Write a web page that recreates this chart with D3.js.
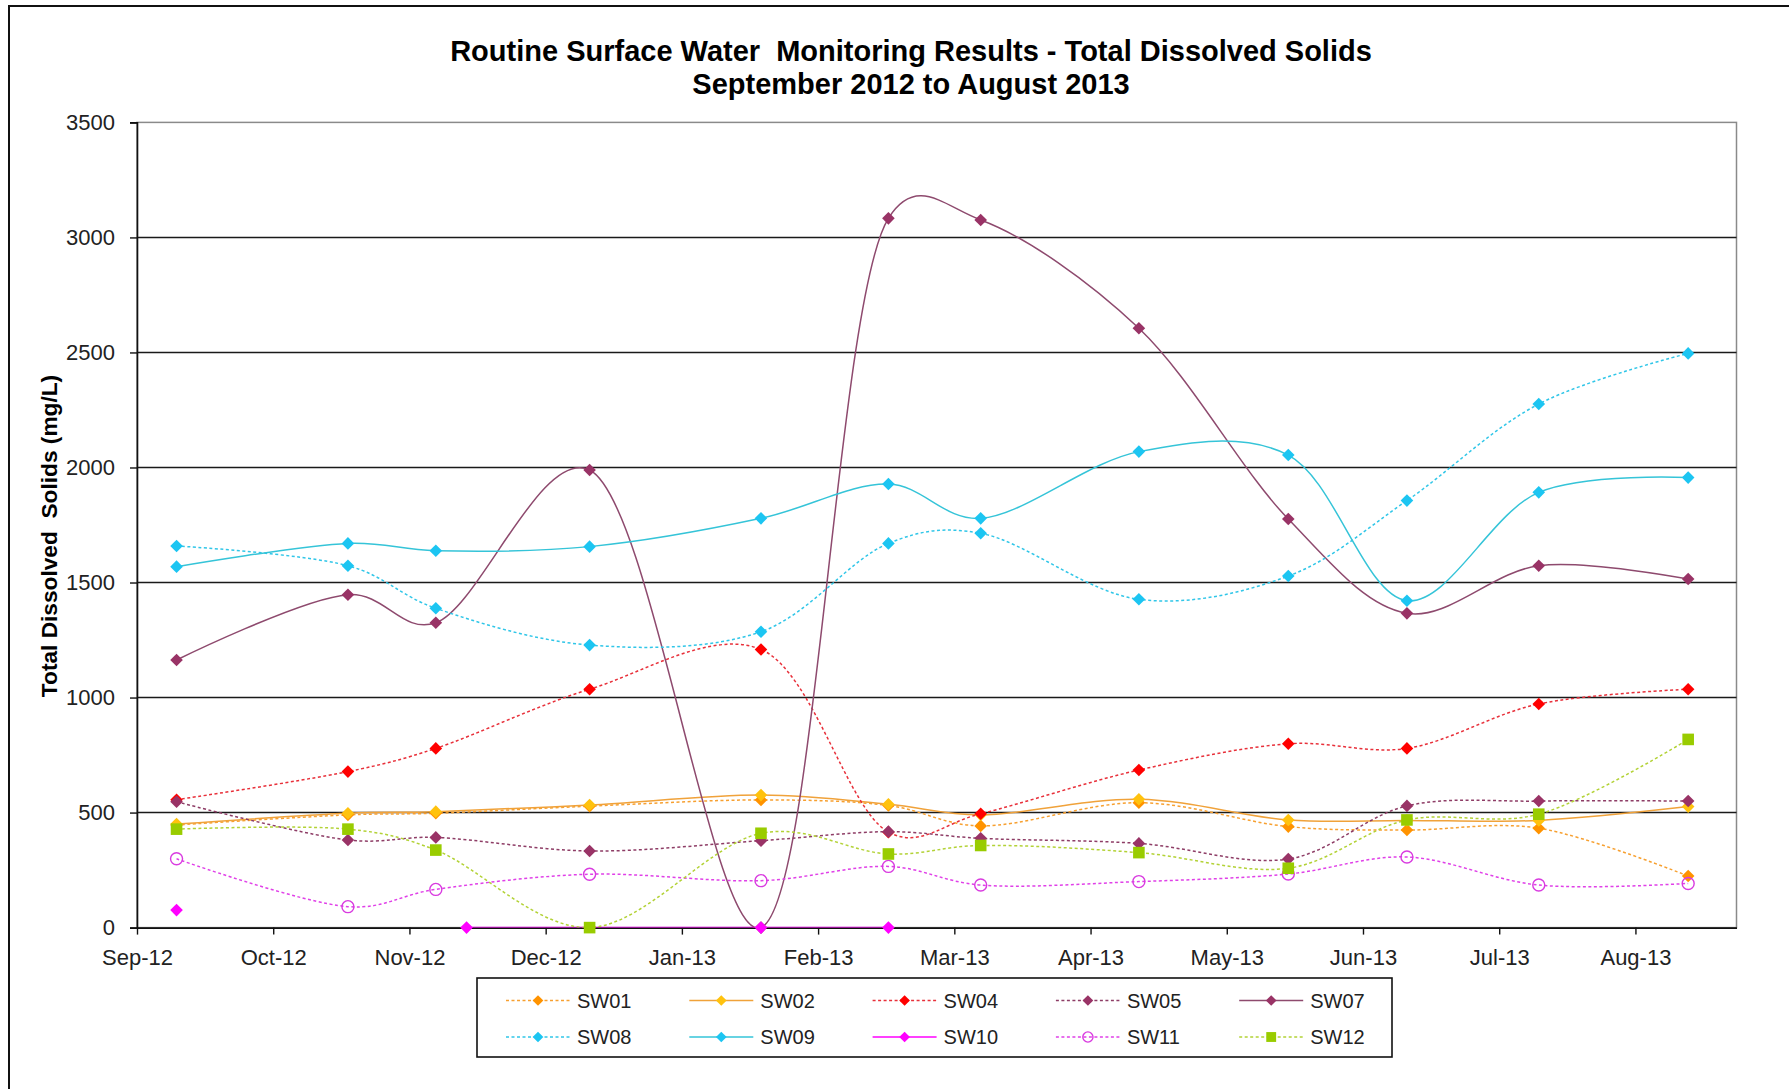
<!DOCTYPE html>
<html>
<head>
<meta charset="utf-8">
<script src="https://cdn.jsdelivr.net/npm/d3@7"></script>
<style>
  html, body { margin: 0; padding: 0; background: #fff; }
  svg { display: block; }
  text { font-family: "Liberation Sans", Arial, sans-serif; }
</style>
</head>
<body>
<script>
// ---------------- DATA ----------------
const titleLines = ["Routine Surface Water  Monitoring Results - Total Dissolved Solids", "September 2012 to August 2013"];
const yAxisTitle = "Total Dissolved  Solids (mg/L)";
const tickLabels = ["Sep-12","Oct-12","Nov-12","Dec-12","Jan-13","Feb-13","Mar-13","Apr-13","May-13","Jun-13","Jul-13","Aug-13"];
const yTicks = [0, 500, 1000, 1500, 2000, 2500, 3000, 3500];

const sampleDates = ["2012-09-10","2012-10-19","2012-11-08","2012-12-13","2013-01-21","2013-02-19",
                     "2013-03-12","2013-04-17","2013-05-21","2013-06-17","2013-07-17","2013-08-20"];
const sw10Dates = ["2012-09-10","2012-10-19","2012-11-15","2013-01-21","2013-02-19"];

const sw01 = [446, 490, 497, 528, 555, 531, 442, 543, 439, 424, 432, 224];
const sw02 = [450, 497, 504, 533, 576, 536, 490, 558, 468, 466, 466, 526];
const sw04 = [556, 678, 779, 1036, 1209, 415, 495, 685, 799, 779, 972, 1036];
const sw05 = [547, 381, 392, 333, 378, 417, 388, 366, 298, 529, 550, 550];
const sw07 = [1163, 1447, 1325, 1989, 0, 3083, 3076, 2605, 1776, 1366, 1573, 1515];
const sw08 = [1659, 1573, 1388, 1228, 1286, 1670, 1714, 1427, 1528, 1856, 2276, 2496];
const sw09 = [1569, 1670, 1638, 1656, 1779, 1928, 1779, 2069, 2054, 1421, 1892, 1956];
const sw10 = [76, null, 0, 0, 0];
const sw11 = [299, 91, 166, 232, 204, 266, 185, 200, 233, 307, 185, 192];
const sw12 = [428, 428, 337, 0, 410, 320, 357, 326, 258, 468, 493, 818];

const seriesNames = ["SW01","SW02","SW04","SW05","SW07","SW08","SW09","SW10","SW11","SW12"];
const seriesValues = [sw01, sw02, sw04, sw05, sw07, sw08, sw09, sw10, sw11, sw12];
const seriesDates = [sampleDates, sampleDates, sampleDates, sampleDates, sampleDates, sampleDates, sampleDates, sw10Dates, sampleDates, sampleDates];

// ---------------- STYLE ----------------
const styles = {
  SW01: {line: "#F7A030", marker: "#FF9300", dash: "3,2.5", shape: "diamond"},
  SW02: {line: "#F0A23A", marker: "#FFC20E", dash: null,    shape: "diamond"},
  SW04: {line: "#E8303A", marker: "#FF0000", dash: "3,2.5", shape: "diamond"},
  SW05: {line: "#8E3D66", marker: "#993366", dash: "3,2.5", shape: "diamond"},
  SW07: {line: "#8E4A6E", marker: "#993366", dash: null,    shape: "diamond"},
  SW08: {line: "#30C6E8", marker: "#1CC5F2", dash: "3,2.5", shape: "diamond"},
  SW09: {line: "#35C4D8", marker: "#1CC5F2", dash: null,    shape: "diamond"},
  SW10: {line: "#FF00FF", marker: "#FF00FF", dash: null,    shape: "diamond"},
  SW11: {line: "#E040E8", marker: "#D93BE0", dash: "3,2.5", shape: "circle"},
  SW12: {line: "#B3D236", marker: "#99CC00", dash: "3,2.5", shape: "square"}
};

const W = 1789, H = 1089;
const plot = {left: 137, right: 1736.5, top: 122.4, bottom: 927.6};
const parse = d3.utcParse("%Y-%m-%d");
const startDate = parse("2012-09-01"), endDate = parse("2013-08-31");

const svg = d3.select("body").append("svg").attr("width", W).attr("height", H);
svg.append("rect").attr("width", W).attr("height", H).attr("fill", "#fff");

// outer chart border
svg.append("rect").attr("x", 9).attr("y", 6).attr("width", 1900).attr("height", 1300)
  .attr("fill", "none").attr("stroke", "#111").attr("stroke-width", 2);

const x = d3.scaleUtc().domain([startDate, endDate]).range([plot.left, plot.right]);
const y = d3.scaleLinear().domain([0, 3500]).range([plot.bottom, plot.top]);

// title
svg.append("g").selectAll("text").data(titleLines).join("text")
  .attr("x", 911).attr("y", (d, i) => 61 + i * 33)
  .attr("text-anchor", "middle").attr("font-size", 29).attr("font-weight", "bold")
  .style("white-space", "pre").attr("fill", "#000").text(d => d);

// plot area border (right, top gray)
svg.append("rect").attr("x", plot.left).attr("y", plot.top)
  .attr("width", plot.right - plot.left).attr("height", plot.bottom - plot.top)
  .attr("fill", "#fff").attr("stroke", "#8a8a8a").attr("stroke-width", 1.5);

// gridlines
svg.append("g").selectAll("line").data(yTicks.filter(v => v > 0 && v < 3500)).join("line")
  .attr("x1", plot.left).attr("x2", plot.right)
  .attr("y1", d => y(d)).attr("y2", d => y(d))
  .attr("stroke", "#1a1a1a").attr("stroke-width", 1.6);

// y axis
const yAxis = svg.append("g").attr("transform", `translate(${plot.left},0)`)
  .call(d3.axisLeft(y).tickValues(yTicks).tickSize(7).tickPadding(15).tickFormat(d3.format("d")));
yAxis.select(".domain").attr("stroke", "#111").attr("stroke-width", 1.6);
yAxis.selectAll(".tick line").attr("stroke", "#111").attr("stroke-width", 1.4);
yAxis.selectAll("text").attr("font-size", 22).attr("fill", "#222")
  .attr("font-family", "Liberation Sans, Arial, sans-serif");

// x axis
const tickDates = tickLabels.map((_, i) => d3.utcDay.offset(startDate, 31 * i));
const xAxis = svg.append("g").attr("transform", `translate(0,${plot.bottom})`)
  .call(d3.axisBottom(x).tickValues(tickDates).tickSize(7).tickSizeOuter(0)
        .tickFormat((d, i) => tickLabels[i]));
xAxis.select(".domain").attr("stroke", "#111").attr("stroke-width", 1.6);
xAxis.selectAll(".tick line").attr("stroke", "#111").attr("stroke-width", 1.4);
xAxis.selectAll("text").attr("font-size", 22).attr("fill", "#222").attr("dy", 0).attr("y", 37.5)
  .attr("font-family", "Liberation Sans, Arial, sans-serif");

// y axis title
svg.append("text").attr("transform", "translate(57,536) rotate(-90)")
  .attr("text-anchor", "middle").attr("font-size", 22.7).attr("font-weight", "bold")
  .style("white-space", "pre").text(yAxisTitle);

// clip
svg.append("clipPath").attr("id", "clip").append("rect")
  .attr("x", plot.left).attr("y", plot.top - 10)
  .attr("width", plot.right - plot.left).attr("height", plot.bottom - plot.top + 10);

function drawMarker(g, shape, cx, cy, st, scale) {
  const s = scale || 1;
  if (shape === "diamond") {
    const r = 6.3 * s;
    g.append("path").attr("d", `M${cx},${cy - r}L${cx + r},${cy}L${cx},${cy + r}L${cx - r},${cy}Z`)
      .attr("fill", st.marker);
  } else if (shape === "square") {
    const r = 5.8 * s;
    g.append("rect").attr("x", cx - r).attr("y", cy - r).attr("width", 2 * r).attr("height", 2 * r)
      .attr("fill", st.marker);
  } else {
    g.append("circle").attr("cx", cx).attr("cy", cy).attr("r", 6 * s)
      .attr("fill", "none").attr("stroke", st.marker).attr("stroke-width", 1.4);
  }
}

const line = d3.line().defined(d => d.v !== null)
  .x(d => x(d.date)).y(d => y(d.v)).curve(d3.curveCatmullRom.alpha(0.3));

const seriesG = svg.append("g");
seriesNames.forEach((name, si) => {
  const st = styles[name];
  const pts = seriesValues[si].map((v, i) => ({date: parse(seriesDates[si][i]), v}));
  const g = seriesG.append("g");
  g.append("path").datum(pts).attr("d", line).attr("clip-path", "url(#clip)")
    .attr("fill", "none").attr("stroke", st.line).attr("stroke-width", 1.5)
    .attr("stroke-dasharray", st.dash);
  pts.filter(d => d.v !== null).forEach(d => drawMarker(g, st.shape, x(d.date), y(d.v), st));
});

// legend
const lg = svg.append("g");
lg.append("rect").attr("x", 477).attr("y", 978).attr("width", 915).attr("height", 79)
  .attr("fill", "#fff").attr("stroke", "#111").attr("stroke-width", 1.6);
seriesNames.forEach((name, i) => {
  const st = styles[name];
  const col = i % 5, row = Math.floor(i / 5);
  const x0 = 506 + col * 183.3, yy = 1000.5 + row * 36.5;
  lg.append("line").attr("x1", x0).attr("x2", x0 + 64).attr("y1", yy).attr("y2", yy)
    .attr("stroke", st.line).attr("stroke-width", 1.5).attr("stroke-dasharray", st.dash);
  drawMarker(lg, st.shape, x0 + 32, yy, st, 0.85);
  lg.append("text").attr("x", x0 + 71).attr("y", yy + 7).attr("font-size", 20).attr("fill", "#222").text(name);
});
</script>
</body>
</html>
